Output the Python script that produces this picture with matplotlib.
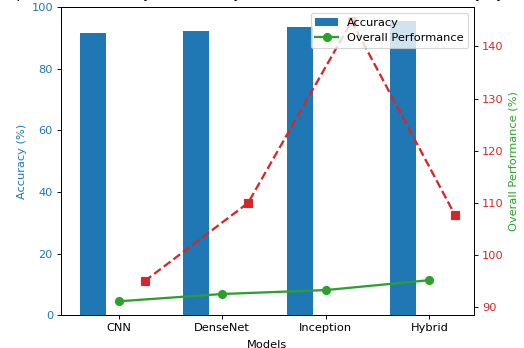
"""
Model comparison chart: accuracy bars with performance lines on a twin axis
"""
import matplotlib
matplotlib.use("Agg")
import matplotlib.pyplot as plt
import numpy as np

models = ["CNN", "DenseNet", "Inception", "Hybrid"]
accuracy = [91.8, 92.3, 93.5, 95.6]
overall_perf = [91.15, 92.55, 93.3, 95.2]
efficiency = [95.0, 110.0, 144.8, 107.6]

x = np.arange(len(models))
width = 0.25

DPI = 82
fig = plt.figure(figsize=(524 / DPI, 348 / DPI), dpi=DPI)
# axes placed so the top title and the x label fall partly off the canvas
ax = fig.add_axes([61 / 524, 32.7 / 348, 413 / 524, 308 / 348])

bars = ax.bar(x - width, accuracy, width, label="Accuracy", color="tab:blue")
ax.set_ylabel("Accuracy (%)", color="tab:blue")
ax.tick_params(axis="y", labelcolor="tab:blue")
ax.set_ylim(0, 100)
ax.set_xticks(x)
ax.set_xticklabels(models)
ax.set_xlabel("Models", labelpad=6)

ax2 = ax.twinx()
line1, = ax2.plot(x, overall_perf, color="tab:green", marker="o", markersize=7,
                  linewidth=2, label="Overall Performance")
ax2.plot(x + width, efficiency, color="tab:red", marker="s", markersize=6.5,
         linestyle="--", linewidth=2)
ax2.set_ylabel("Overall Performance (%)", color="tab:green")
ax2.tick_params(axis="y", labelcolor="tab:red")

ax2.legend([bars, line1], ["Accuracy", "Overall Performance"], loc="upper right")
ax.set_title("Comparison of Accuracy vs Efficiency, Overall Performance, and Latency by Model",
             fontsize=12, pad=8.5)

plt.savefig("out.png", dpi=DPI)
plt.close(fig)
